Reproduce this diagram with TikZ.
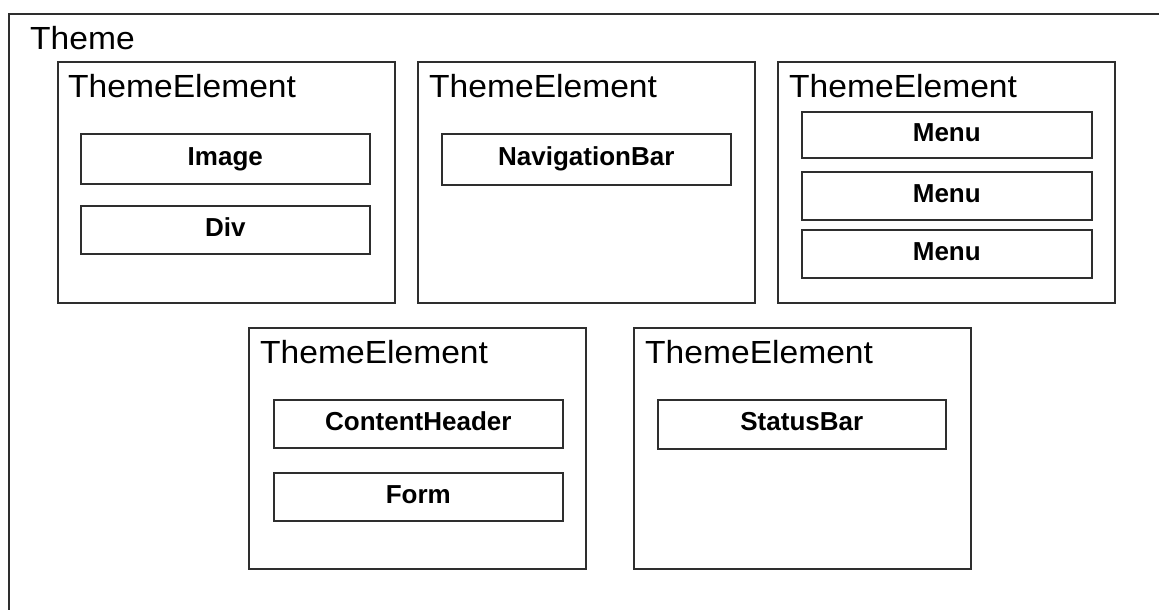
\documentclass[tikz,border=0pt]{standalone}
\usepackage{fontspec}
\setmainfont{Liberation Sans}
\newfontfamily\tefont[FakeStretch=1.05]{Liberation Sans}
\begin{document}
\begin{tikzpicture}[x=1pt,y=-1pt,
  frame/.style={draw=black!82, line width=1.6pt, rectangle, inner sep=0pt, anchor=north west},
  tebox/.style={frame, minimum width=337pt, minimum height=241pt},
  itembox/.style={frame, font=\bfseries\fontsize{26}{26}\selectfont, text height=12.6pt, text depth=0pt, align=center},
  telabel/.style={anchor=base west, inner sep=0pt, font=\tefont\fontsize{32}{32}\selectfont}]
\useasboundingbox (0,0) rectangle (1159,610);
\clip (0,0) rectangle (1159,610);
\fill[white] (0,0) rectangle (1159,610);
% Theme frame (extends past the right and bottom edges)
\node[frame, minimum width=1200pt, minimum height=650pt] (theme) at (8,13) {};
\node[telabel] (themelbl) at (30,49) {Theme};
% Row 1
\node[tebox] (te1) at (57,61) {};
\node[tebox] (te2) at (417,61) {};
\node[tebox] (te3) at (777,61) {};
% Row 2
\node[tebox] (te4) at (248,327) {};
\node[tebox] (te5) at (633,327) {};
% Labels
\node[telabel] (te1l) at (68,97) {ThemeElement};
\node[telabel] (te2l) at (429,97) {ThemeElement};
\node[telabel] (te3l) at (789,97) {ThemeElement};
\node[telabel] (te4l) at (260,363) {ThemeElement};
\node[telabel] (te5l) at (645,363) {ThemeElement};
% Items
\node[itembox, minimum width=289pt, minimum height=50pt] (img) at (80,133) {Image};
\node[itembox, minimum width=289pt, minimum height=48pt] (div) at (80,205) {Div};
\node[itembox, minimum width=289pt, minimum height=51pt] (nav) at (441,133) {NavigationBar};
\node[itembox, minimum width=290pt, minimum height=46pt] (menu1) at (801,111) {Menu};
\node[itembox, minimum width=290pt, minimum height=48pt] (menu2) at (801,171) {Menu};
\node[itembox, minimum width=290pt, minimum height=48pt] (menu3) at (801,229) {Menu};
\node[itembox, minimum width=289pt, minimum height=48pt] (ch) at (273,399) {ContentHeader};
\node[itembox, minimum width=289pt, minimum height=48pt] (form) at (273,472) {Form};
\node[itembox, minimum width=288pt, minimum height=49pt] (status) at (657,399) {StatusBar};
\end{tikzpicture}
\end{document}
